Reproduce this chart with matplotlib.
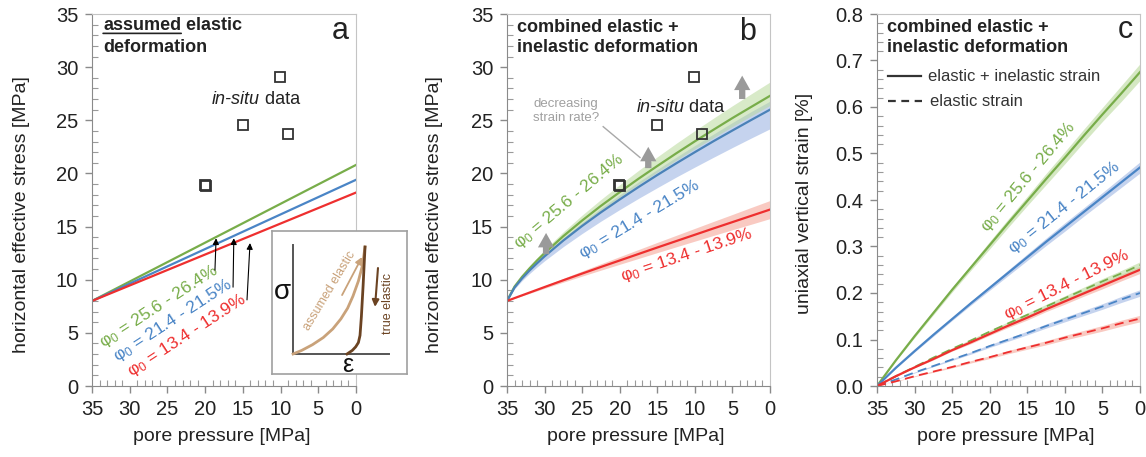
import matplotlib
matplotlib.use("Agg")
import matplotlib.pyplot as plt
from matplotlib.ticker import MultipleLocator, FormatStrFormatter

plt.rcParams["font.family"] = ["Liberation Sans", "DejaVu Sans"]
plt.rcParams["mathtext.fontset"] = "custom"
plt.rcParams["mathtext.rm"] = "Liberation Sans"
plt.rcParams["mathtext.it"] = "Liberation Sans:italic"
plt.rcParams["mathtext.bf"] = "Liberation Sans:bold"

# ---- data ----
# in-situ measurements (pore pressure, horizontal effective stress)
insitu_pp = [20.05, 19.95, 15.0, 10.1, 9.0]
insitu_sh = [18.9, 18.8, 24.55, 29.05, 23.75]

# panel a: assumed elastic (straight lines)
a_pp = [35, 0]
a_green = [8.0, 20.8]
a_blue = [8.0, 19.4]
a_red = [8.0, 18.2]

# panel b: combined elastic + inelastic
b_pp = [35, 34, 33, 32, 31, 30, 27.5, 25, 22.5, 20, 17.5, 15, 12.5, 10, 7.5, 5, 2.5, 0]
b_green = [8.0, 9.35, 10.27, 11.07, 11.81, 12.50, 14.10, 15.57, 16.95, 18.24, 19.50, 20.70, 21.88, 23.02, 24.12, 25.21, 26.26, 27.30]
b_green_hi = [8.0, 9.44, 10.42, 11.28, 12.07, 12.81, 14.51, 16.08, 17.55, 18.94, 20.28, 21.56, 22.82, 24.03, 25.21, 26.37, 27.49, 28.60]
b_green_lo = [8.0, 9.29, 10.16, 10.93, 11.63, 12.29, 13.81, 15.21, 16.53, 17.77, 18.97, 20.11, 21.23, 22.32, 23.37, 24.41, 25.41, 26.40]
b_blue = [8.0, 9.26, 10.12, 10.87, 11.55, 12.20, 13.69, 15.06, 16.34, 17.55, 18.72, 19.85, 20.94, 22.00, 23.04, 24.04, 25.03, 26.00]
b_blue_hi = [8.0, 9.32, 10.21, 10.99, 11.71, 12.39, 13.94, 15.37, 16.72, 17.98, 19.20, 20.37, 21.52, 22.63, 23.71, 24.79, 25.82, 26.80]
b_blue_lo = [8.0, 9.13, 9.91, 10.58, 11.20, 11.78, 13.12, 14.35, 15.51, 16.60, 17.65, 18.66, 19.65, 20.60, 21.53, 22.44, 23.33, 24.20]
b_red = [8.0, 8.27, 8.53, 8.79, 9.05, 9.31, 9.95, 10.58, 11.20, 11.81, 12.42, 13.03, 13.63, 14.23, 14.83, 15.42, 16.01, 16.60]
b_red_hi = [8.0, 8.29, 8.58, 8.86, 9.15, 9.43, 10.13, 10.82, 11.50, 12.17, 12.84, 13.51, 14.17, 14.83, 15.49, 16.14, 16.80, 17.45]
b_red_lo = [8.0, 8.24, 8.48, 8.71, 8.95, 9.19, 9.77, 10.34, 10.90, 11.45, 12.00, 12.55, 13.09, 13.63, 14.17, 14.70, 15.22, 15.75]

# panel c: uniaxial vertical strain [%]
c_pp = [35, 32.5, 30, 27.5, 25, 22.5, 20, 17.5, 15, 12.5, 10, 7.5, 5, 2.5, 0]
c_green = [0, 0.055, 0.107, 0.157, 0.207, 0.255, 0.303, 0.351, 0.398, 0.445, 0.491, 0.538, 0.584, 0.629, 0.675]
c_green_err = [0, 0.001, 0.003, 0.004, 0.005, 0.006, 0.008, 0.009, 0.010, 0.012, 0.013, 0.014, 0.015, 0.017, 0.018]
c_blue = [0, 0.039, 0.075, 0.110, 0.144, 0.178, 0.211, 0.244, 0.277, 0.310, 0.342, 0.374, 0.406, 0.438, 0.470]
c_blue_err = [0, 0.001, 0.002, 0.003, 0.003, 0.004, 0.005, 0.006, 0.007, 0.008, 0.009, 0.009, 0.010, 0.011, 0.012]
c_red = [0, 0.021, 0.040, 0.058, 0.077, 0.094, 0.112, 0.130, 0.147, 0.165, 0.182, 0.199, 0.216, 0.233, 0.250]
c_red_err = [0, 0.0005, 0.001, 0.002, 0.002, 0.003, 0.003, 0.004, 0.005, 0.005, 0.006, 0.006, 0.007, 0.007, 0.008]
c_green_el = [0, 0.021, 0.041, 0.061, 0.080, 0.098, 0.117, 0.135, 0.153, 0.171, 0.189, 0.207, 0.225, 0.242, 0.260]
c_blue_el = [0, 0.014, 0.029, 0.043, 0.057, 0.071, 0.086, 0.100, 0.114, 0.129, 0.143, 0.157, 0.171, 0.186, 0.200]
c_red_el = [0, 0.010, 0.021, 0.031, 0.041, 0.052, 0.062, 0.073, 0.083, 0.093, 0.104, 0.114, 0.124, 0.135, 0.145]
c_el_err = [0, 0.0005, 0.001, 0.0015, 0.002, 0.0025, 0.003, 0.0035, 0.004, 0.0045, 0.005, 0.0055, 0.006, 0.0065, 0.007]

labels = ["φ$_0$ = 25.6 - 26.4%", "φ$_0$ = 21.4 - 21.5%", "φ$_0$ = 13.4 - 13.9%"]

# inset sketch (schematic stress-strain)
sk_assumed_u = [0.156, 0.22, 0.30, 0.38, 0.45, 0.51, 0.56, 0.60, 0.64, 0.67, 0.689]
sk_assumed_v = [0.14, 0.165, 0.205, 0.255, 0.315, 0.385, 0.46, 0.545, 0.65, 0.76, 0.888]
sk_true_u = [0.689, 0.675, 0.662, 0.652, 0.64, 0.62, 0.595, 0.556]
sk_true_v = [0.888, 0.62, 0.40, 0.27, 0.22, 0.19, 0.165, 0.14]

GREEN = "#78ad4a"
BLUE = "#4a85c6"
RED = "#ee2f2f"
GREEN_F = "#b9d99c"
BLUE_F = "#9fb6e3"
RED_F = "#f5a89a"
TAN = "#c9a27a"
BROWN = "#6b4322"
GRAY_TXT = "#222222"

fig = plt.figure(figsize=(11.46, 4.57), dpi=100)
W, H = 1146, 457


def px_axes(left, right, top=14, bottom=386):
    return fig.add_axes([left / W, 1 - bottom / H, (right - left) / W, (bottom - top) / H])


def style(ax, ymax, ymajor, yminor):
    ax.set_xlim(35, 0)
    ax.set_ylim(0, ymax)
    ax.xaxis.set_major_locator(MultipleLocator(5))
    ax.xaxis.set_minor_locator(MultipleLocator(1))
    ax.yaxis.set_major_locator(MultipleLocator(ymajor))
    ax.yaxis.set_minor_locator(MultipleLocator(yminor))
    for s in ["left", "bottom"]:
        ax.spines[s].set_color("#8a8a8a")
    for s in ["top", "right"]:
        ax.spines[s].set_color("#c4c4c4")
    ax.tick_params(which="major", direction="out", length=5, width=1, color="#8a8a8a",
                   labelsize=14.5, labelcolor=GRAY_TXT, pad=5)
    ax.tick_params(which="minor", direction="in", length=4, width=0.8, color="#9a9a9a")
    ax.set_xlabel("pore pressure [MPa]", fontsize=14, color=GRAY_TXT)
    ax.xaxis.set_label_coords(0.49, -0.113)


def add_title(ax, lines, underline_first=False):
    if underline_first:
        t = ax.text(0.042, 0.947, "assumed", transform=ax.transAxes, fontsize=13,
                    fontweight="bold", va="bottom", ha="left", color=GRAY_TXT)
        ax.annotate(" elastic", xy=(1, 0), xycoords=t, va="bottom", ha="left", fontsize=13,
                    fontweight="bold", color=GRAY_TXT)
        ax.annotate("", xy=(0, 0.02), xycoords=t, xytext=(1, 0.02), textcoords=t,
                    arrowprops=dict(arrowstyle="-", lw=1.2, color=GRAY_TXT, shrinkA=0, shrinkB=0))
        ax.text(0.042, 0.909, lines[1], transform=ax.transAxes, fontsize=13,
                fontweight="bold", va="center", ha="left", color=GRAY_TXT)
    else:
        ax.text(0.038, 0.965, lines[0], transform=ax.transAxes, fontsize=13,
                fontweight="bold", va="center", ha="left", color=GRAY_TXT)
        ax.text(0.038, 0.909, lines[1], transform=ax.transAxes, fontsize=13,
                fontweight="bold", va="center", ha="left", color=GRAY_TXT)


def insitu(ax, x, y):
    ax.plot(insitu_pp, insitu_sh, ls="none", marker="s", ms=7.5, mfc="none",
            mec="#333333", mew=1.3, zorder=5)
    t = ax.text(x, y, "in-situ", style="italic", fontsize=13, va="center", ha="left",
                color=GRAY_TXT)
    ax.annotate(" data", xy=(1, 0), xycoords=t, va="bottom", ha="left", fontsize=13,
                color=GRAY_TXT)


def rot_label(ax, x, y, s, color, rot, size=12.5):
    ax.text(x, y, s, color=color, fontsize=size, rotation=rot, rotation_mode="anchor",
            ha="left", va="baseline")


# ---------------- panel a ----------------
axa = px_axes(92, 356)
style(axa, 35, 5, 1)
axa.set_ylabel("horizontal effective stress [MPa]", fontsize=14, color=GRAY_TXT)
axa.yaxis.set_label_coords(-0.235, 0.46)
axa.plot(a_pp, a_green, color=GREEN, lw=1.6)
axa.plot(a_pp, a_blue, color=BLUE, lw=1.6)
axa.plot(a_pp, a_red, color=RED, lw=1.6)
add_title(axa, ["assumed elastic", "deformation"], underline_first=True)
axa.text(0.94, 0.955, "a", transform=axa.transAxes, fontsize=22, ha="center", va="center",
         color=GRAY_TXT)
insitu(axa, 19.1, 27.0)
rot_label(axa, 33.5, 3.6, labels[0], GREEN, 33)
rot_label(axa, 31.6, 2.3, labels[1], BLUE, 33)
rot_label(axa, 29.8, 0.9, labels[2], RED, 33)
arrow_kw = dict(arrowstyle="-|>", color="black", lw=0.8, mutation_scale=9, shrinkA=0, shrinkB=0)
axa.annotate("", xy=(18.55, 13.9), xytext=(18.7, 10.9), arrowprops=arrow_kw)
axa.annotate("", xy=(16.2, 13.9), xytext=(16.3, 9.3), arrowprops=arrow_kw)
axa.annotate("", xy=(14.05, 13.45), xytext=(14.45, 8.1), arrowprops=arrow_kw)

# inset sketch
ins = fig.add_axes([272 / W, 1 - 374 / H, 135 / W, 143 / H], zorder=10)
ins.set_xlim(0, 1)
ins.set_ylim(0, 1)
ins.set_xticks([])
ins.set_yticks([])
for s in ins.spines.values():
    s.set_color("#a0a0a0")
    s.set_linewidth(1.2)
ins.plot([0.156, 0.156, 0.867], [0.902, 0.14, 0.14], color="#555555", lw=1.4)
ins.plot(sk_assumed_u, sk_assumed_v, color=TAN, lw=2.0)
ins.plot(sk_true_u, sk_true_v, color=BROWN, lw=2.0)
ins.annotate("", xy=(0.667, 0.818), xytext=(0.519, 0.552),
             arrowprops=dict(arrowstyle="-|>", color=TAN, lw=1.3, mutation_scale=10,
                             shrinkA=0, shrinkB=0))
ins.annotate("", xy=(0.763, 0.469), xytext=(0.785, 0.741),
             arrowprops=dict(arrowstyle="-|>", color=BROWN, lw=1.5, mutation_scale=10,
                             shrinkA=0, shrinkB=0))
ins.text(0.43, 0.58, "assumed elastic", color=TAN, fontsize=9, rotation=59,
         ha="center", va="center")
ins.text(0.86, 0.49, "true elastic", color=BROWN, fontsize=9, rotation=90,
         ha="center", va="center")
ins.text(0.075, 0.57, "σ", fontsize=20, ha="center", va="center", color="#111111")
ins.text(0.563, 0.06, "ε", fontsize=18, ha="center", va="center", color="#111111")

# ---------------- panel b ----------------
axb = px_axes(507, 770)
style(axb, 35, 5, 1)
axb.set_ylabel("horizontal effective stress [MPa]", fontsize=14, color=GRAY_TXT)
axb.yaxis.set_label_coords(-0.243, 0.46)
axb.fill_between(b_pp, b_blue_lo, b_blue_hi, color=BLUE_F, alpha=0.6, lw=0)
axb.fill_between(b_pp, b_green_lo, b_green_hi, color=GREEN_F, alpha=0.55, lw=0)
axb.fill_between(b_pp, b_red_lo, b_red_hi, color=RED_F, alpha=0.6, lw=0)
axb.plot(b_pp, b_green, color=GREEN, lw=1.6)
axb.plot(b_pp, b_blue, color="#4a82b8", lw=1.6)
axb.plot(b_pp, b_red, color=RED, lw=1.6)
add_title(axb, ["combined elastic +", "inelastic deformation"])
axb.text(0.916, 0.952, "b", transform=axb.transAxes, fontsize=22, ha="center", va="center",
         color=GRAY_TXT)
insitu(axb, 17.8, 26.2)
rot_label(axb, 33.4, 12.9, labels[0], GREEN, 40)
rot_label(axb, 25.0, 12.0, labels[1], BLUE, 31)
rot_label(axb, 19.6, 9.9, labels[2], RED, 18.5)
gray_arrow = dict(arrowstyle="simple,head_width=0.9,head_length=0.8,tail_width=0.35",
                  color="#9a9a9a", lw=0, mutation_scale=13, shrinkA=0, shrinkB=0)
axb.annotate("", xy=(29.8, 14.4), xytext=(29.8, 12.4), arrowprops=gray_arrow)
axb.annotate("", xy=(16.2, 22.5), xytext=(16.2, 20.5), arrowprops=gray_arrow)
axb.annotate("", xy=(3.7, 29.2), xytext=(3.7, 27.0), arrowprops=gray_arrow)
axb.text(31.5, 25.85, "decreasing\nstrain rate?", color="#a0a0a0", fontsize=9.5,
         ha="left", va="center", linespacing=1.25)
axb.plot([22.2, 17.3], [24.4, 21.5], color="#a8a8a8", lw=1.0)

# ---------------- panel c ----------------
axc = px_axes(877, 1140)
style(axc, 0.8, 0.1, 0.02)
axc.yaxis.set_major_formatter(FormatStrFormatter("%.1f"))
axc.set_ylabel("uniaxial vertical strain [%]", fontsize=14, color=GRAY_TXT)
axc.yaxis.set_label_coords(-0.243, 0.49)


def band(ax, y, err, color):
    lo = [v - e for v, e in zip(y, err)]
    hi = [v + e for v, e in zip(y, err)]
    ax.fill_between(c_pp, lo, hi, color=color, alpha=0.6, lw=0)


band(axc, c_green, c_green_err, GREEN_F)
band(axc, c_blue, c_blue_err, BLUE_F)
band(axc, c_red, c_red_err, RED_F)
band(axc, c_green_el, c_el_err, GREEN_F)
band(axc, c_blue_el, c_el_err, BLUE_F)
band(axc, c_red_el, c_el_err, RED_F)
axc.plot(c_pp, c_green_el, color=GREEN, lw=1.3, ls=(0, (5, 3)))
axc.plot(c_pp, c_blue_el, color=BLUE, lw=1.3, ls=(0, (5, 3)))
axc.plot(c_pp, c_red_el, color=RED, lw=1.3, ls=(0, (5, 3)))
axc.plot(c_pp, c_green, color=GREEN, lw=1.6)
axc.plot(c_pp, c_blue, color=BLUE, lw=1.6)
axc.plot(c_pp, c_red, color=RED, lw=1.6)
add_title(axc, ["combined elastic +", "inelastic deformation"])
axc.text(0.943, 0.957, "c", transform=axc.transAxes, fontsize=22, ha="center", va="center",
         color=GRAY_TXT)
axc.plot([0.042, 0.167], [0.833, 0.833], transform=axc.transAxes, color="#333333", lw=1.6)
axc.plot([0.042, 0.17], [0.766, 0.766], transform=axc.transAxes, color="#333333", lw=1.6,
         ls=(0, (3.5, 2.5)))
axc.text(0.194, 0.833, "elastic + inelastic strain", transform=axc.transAxes, fontsize=12,
         ha="left", va="center", color="#333333")
axc.text(0.20, 0.766, "elastic strain", transform=axc.transAxes, fontsize=12,
         ha="left", va="center", color="#333333")
rot_label(axc, 20.4, 0.33, labels[0], GREEN, 50)
rot_label(axc, 16.9, 0.283, labels[1], BLUE, 38.5)
rot_label(axc, 17.7, 0.143, labels[2], RED, 26.5)

fig.savefig("out.png", dpi=100)
